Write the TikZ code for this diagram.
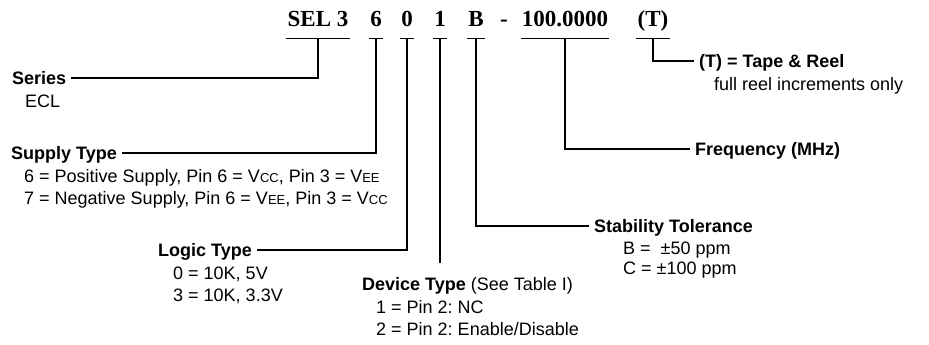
\documentclass[tikz,border=0pt]{standalone}
\usepackage{fontspec}
\setmainfont{Liberation Sans}
\newfontfamily\codefont{Liberation Serif}
\usetikzlibrary{positioning}
\newcommand{\lowcap}[1]{{\fontsize{13}{13}\selectfont #1}}
\frenchspacing

\begin{document}
\begin{tikzpicture}[x=1pt, y=-1pt,
    every node/.style={font=\fontsize{18}{22}\selectfont, inner sep=0pt},
    code/.style={font=\codefont\bfseries\fontsize{23}{23}\selectfont,
                 inner xsep=1pt, text height=16pt, text depth=11pt, anchor=base},
    title/.style={font=\bfseries\fontsize{18}{22}\selectfont, anchor=west,
                  inner xsep=5pt, text height=13pt, text depth=0pt},
    desc/.style={align=left, anchor=north west},
    link/.style={line width=1.2pt}
]
\useasboundingbox (0,0) rectangle (929,345);

\node (ser)  [code] at (318,27) {SEL 3};
\node (sup)  [code] at (376,27) {6};
\node (log)  [code] at (407,27) {0};
\node (dev)  [code] at (440,27) {1};
\node (stab) [code] at (476,27) {B};
\node (dash) [code] at (504,27) {-};
\node (freq) [code] at (565,27) {100.0000};
\node (tr)   [code] at (653,27) {(T)};

\node (series)    [title] at (7,78)    {Series};
\node (supply)    [title] at (6,153)   {Supply Type};
\node (logic)     [title] at (153,250) {Logic Type};
\node (device)    [title] at (357,284) {Device Type {\mdseries (See Table I)}};
\node (stability) [title] at (589,226) {Stability Tolerance};
\node (frequency) [title] at (690,149) {Frequency (MHz)};
\node (tapereel)  [title] at (694,61)  {(T) = Tape \& Reel};

\node (seriesopts) [desc, below right=10pt and 18pt of series.south west] {ECL};
\node (supplyopts) [desc, below right=10pt and 18pt of supply.south west]
    {6 = Positive Supply, Pin 6 = V\lowcap{CC}, Pin 3 = V\lowcap{EE}\\
     7 = Negative Supply, Pin 6 = V\lowcap{EE}, Pin 3 = V\lowcap{CC}};
\node (logicopts)  [desc, below right=10pt and 20pt of logic.south west]
    {0 = 10K, 5V\\3 = 10K, 3.3V};
\node (deviceopts) [desc, below right=10pt and 19pt of device.south west]
    {1 = Pin 2: NC\\2 = Pin 2: Enable/Disable};
\node (stabopts)   [desc, below right=9pt and 34pt of stability.south west,
                    font=\fontsize{18}{20}\selectfont]
    {B = \hspace{5pt}±50 ppm\\C = ±100 ppm};
\node (tapeopts)   [desc, below right=10pt and 20pt of tapereel.south west]
    {full reel increments only};

\foreach \c in {ser,sup,log,dev,stab,freq,tr}
    \draw [link] (\c.south west) -- (\c.south east);

\draw [link] (series.east) -| (ser.south);
\draw [link] (supply.east) -| (sup.south);
\draw [link] (logic.east) -| (log.south);
\draw [link, shorten >=14pt] (dev.south) -- (dev.south |- device.north);
\draw [link] (stab.south) |- (stability.west);
\draw [link] (freq.south) |- (frequency.west);
\draw [link] (tr.south) |- (tapereel.west);
\end{tikzpicture}
\end{document}
